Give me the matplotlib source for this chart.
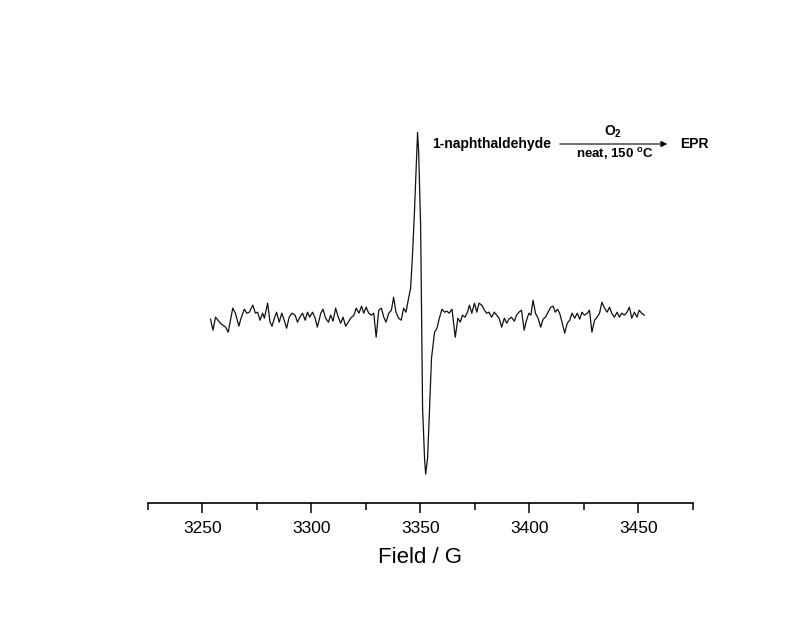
import matplotlib.pyplot as plt

plt.rcParams['font.family'] = ['Liberation Sans', 'DejaVu Sans']
plt.rcParams['mathtext.fontset'] = 'custom'
plt.rcParams['mathtext.rm'] = 'Liberation Sans:bold'
plt.rcParams['mathtext.bf'] = 'Liberation Sans:bold'

# EPR trace (field in G, signal in arbitrary units)
field = [3253.7, 3254.8, 3256.0, 3257.1, 3258.1, 3259.4, 3260.6, 3261.8, 3263.9, 3265.1,
         3266.7, 3267.7, 3269.2, 3270.3, 3271.5, 3273.1, 3274.3, 3275.3, 3276.4, 3277.6,
         3278.4, 3279.9, 3281.0, 3281.9, 3283.0, 3284.0, 3285.2, 3286.4, 3287.5, 3288.6,
         3289.8, 3291.0, 3292.5, 3293.6, 3294.7, 3295.9, 3297.1, 3298.2, 3299.2, 3300.5,
         3301.7, 3302.7, 3304.3, 3305.3, 3306.5, 3307.8, 3308.8, 3309.9, 3311.1, 3312.3,
         3313.4, 3314.5, 3315.7, 3316.9, 3318.0, 3319.5, 3320.5, 3321.8, 3323.0, 3324.0,
         3325.1, 3326.3, 3327.5, 3328.6, 3329.7, 3330.9, 3332.1, 3333.2, 3334.2, 3335.5,
         3336.7, 3337.7, 3338.8, 3340.0, 3341.2, 3342.3, 3343.4, 3344.4, 3345.5, 3346.4,
         3347.3, 3348.1, 3348.7, 3349.2, 3350.1, 3350.6, 3351.0, 3351.9, 3352.4, 3353.3,
         3354.2, 3355.1, 3356.5, 3357.6, 3358.7, 3359.9, 3361.1, 3362.2, 3363.2, 3364.5,
         3366.0, 3367.2, 3368.3, 3369.3, 3370.5, 3371.6, 3372.5, 3373.6, 3374.8, 3375.9,
         3376.9, 3378.2, 3379.4, 3380.4, 3381.5, 3382.7, 3383.9, 3385.0, 3386.1, 3387.3,
         3388.5, 3389.6, 3390.6, 3391.8, 3393.1, 3394.1, 3395.2, 3396.4, 3397.6, 3398.7,
         3399.8, 3400.7, 3401.7, 3402.8, 3404.0, 3405.2, 3406.3, 3407.4, 3408.6, 3409.8,
         3410.9, 3411.9, 3412.9, 3413.9, 3415.0, 3416.2, 3417.4, 3418.5, 3419.6, 3420.8,
         3422.0, 3423.1, 3424.1, 3425.3, 3426.6, 3427.6, 3428.7, 3429.9, 3431.1, 3432.2,
         3433.3, 3434.5, 3435.7, 3436.8, 3437.8, 3439.0, 3440.3, 3441.3, 3442.4, 3443.6,
         3444.8, 3445.9, 3447.0, 3448.2, 3449.4, 3450.4, 3451.5, 3452.7]
signal = [-3, -14, -1, -4, -7, -9, -11, -16, 8, 3,
          -10, -2, 7, 3, 4, 11, 3, 4, -4, 3,
          -2, 13, -6, -10, -2, 4, -6, 3, -4, -12,
          -1, 3, 1, -6, -1, 3, -4, 4, -1, 4,
          -2, -11, 3, 7, -2, -6, 1, -5, 8, -1,
          -7, -1, -10, -6, -2, 1, 8, 3, 10, 3,
          9, 3, 1, 3, -21, 6, 8, -1, -6, 3,
          6, 19, 4, -2, -4, 8, 4, 16, 28, 62,
          106, 150, 184, 164, 91, -9, -92, -142, -158, -142,
          -92, -42, -16, -12, -2, 7, 4, 5, 3, 7,
          -21, -2, -6, 1, -1, 4, 11, 3, 13, 4,
          13, 11, 6, 3, 4, -1, 4, 1, -2, -11,
          -2, -7, -3, -1, -5, 1, 4, 6, -14, -4,
          3, 1, 16, 3, -2, -11, -3, -1, 4, 9,
          10, 4, 7, 3, -6, -17, -7, -4, 3, -2,
          3, -3, 4, 1, 3, 6, -16, -4, -1, 3,
          14, 8, 4, 9, 3, -1, 4, -1, 3, 1,
          4, 9, -2, 4, -1, 6, 3, 1]

major_ticks = [3250, 3300, 3350, 3400, 3450]
minor_ticks = [3225, 3275, 3325, 3375, 3425, 3475]

fig = plt.figure(figsize=(8, 6.18), dpi=100)
ax = fig.add_axes([0.185, 0.186, 0.681, 0.684])
ax.plot(field, signal, color='#111111', lw=0.9)

ax.set_xlim(3225, 3475)
ax.set_ylim(-187, 236)
ax.set_xticks(major_ticks)
ax.set_xticks(minor_ticks, minor=True)
ax.tick_params(axis='x', which='major', direction='out', length=7, width=1.1, labelsize=12.5, pad=6)
ax.tick_params(axis='x', which='minor', direction='out', length=5, width=1.1)
ax.set_yticks([])
for s in ['left', 'right', 'top']:
    ax.spines[s].set_visible(False)
ax.spines['bottom'].set_linewidth(1.2)
ax.set_xlabel('Field / G', fontsize=16, labelpad=8)

# reaction scheme annotation
fig.text(432 / 800, 1 - 144 / 618, '1-naphthaldehyde', fontsize=10, fontweight='bold', ha='left', va='center')
ax.annotate('', xy=(670 / 800, 1 - 144 / 618), xytext=(557 / 800, 1 - 144 / 618),
            xycoords='figure fraction', textcoords='figure fraction',
            arrowprops=dict(arrowstyle='-|>', lw=0.8, color='black', mutation_scale=9))
fig.text(613 / 800, 1 - 136 / 618, r'O$_{\mathrm{2}}$', fontsize=10, fontweight='bold', ha='center', va='baseline')
fig.text(615 / 800, 1 - 158 / 618, r'neat, 150 $^{\mathrm{o}}$C', fontsize=9.5, fontweight='bold', ha='center', va='baseline')
fig.text(680 / 800, 1 - 144 / 618, 'EPR', fontsize=10, fontweight='bold', ha='left', va='center')

fig.savefig('out.png', dpi=100)
